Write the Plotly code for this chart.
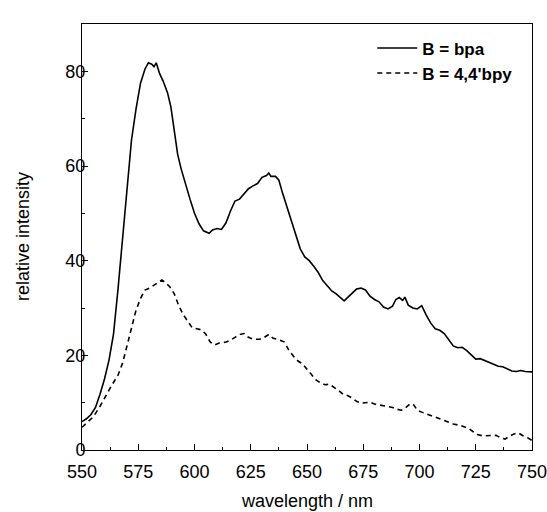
import plotly.graph_objects as go

# ---- data ----
wl_bpa = [550, 552, 554, 556, 558, 560, 562, 564, 566, 568, 570, 572, 574, 576, 578, 579.5, 581, 582, 583,
          584.5, 586, 588, 589.5, 591, 592.5, 594, 596, 598, 600, 602, 604, 606.5, 608, 610, 612, 614, 616,
          618, 620, 622, 624, 626, 628, 630, 632, 633, 634, 636, 637.5, 639, 641, 643, 645, 647, 649, 651,
          653, 655, 657, 659, 661, 663, 665, 666.5, 668, 670, 672, 674, 676, 678, 680, 682, 684, 686, 688,
          689.5, 691, 692.5, 693.5, 695, 697, 699, 701, 703, 705, 707, 709, 711, 713, 715, 717, 719, 721,
          723, 725, 727, 729, 731, 733, 735, 737, 739, 741, 743, 745, 747, 750]
int_bpa = [6.0, 6.6, 7.5, 9.0, 11.8, 15.0, 19.0, 24.5, 34.0, 45.0, 56.0, 65.5, 72.0, 77.5, 80.5, 81.8, 81.5,
           81.0, 81.8, 79.5, 78.0, 75.5, 72.5, 67.0, 62.5, 59.5, 56.0, 53.0, 50.0, 47.8, 46.3, 45.8, 46.5,
           46.8, 46.6, 48.0, 50.5, 52.6, 53.0, 54.0, 55.2, 55.8, 56.3, 57.6, 58.0, 58.5, 57.8, 57.8, 57.0,
           54.5, 51.5, 48.8, 45.5, 42.5, 40.8, 40.0, 38.8, 37.5, 35.8, 34.8, 33.6, 33.0, 32.2, 31.5, 32.2,
           33.2, 34.0, 34.2, 33.8, 32.5, 31.8, 31.3, 30.2, 29.8, 30.4, 31.8, 32.2, 31.6, 32.3, 30.6, 30.0,
           29.8, 30.5, 28.5, 26.8, 25.6, 25.3, 24.6, 23.2, 22.0, 21.6, 21.7, 21.0, 20.0, 19.2, 19.3, 18.9,
           18.4, 18.0, 17.7, 17.6, 17.2, 16.7, 16.6, 16.8, 16.6, 16.5]

wl_bpy = [550, 552.5, 555, 558, 561, 563, 566, 568, 570, 572, 574, 576, 578, 580, 582, 584, 585.5, 587, 589,
          591, 593, 595, 597, 599, 601, 603, 605, 607, 609, 611, 614, 616, 618, 620, 622, 624, 626, 629, 631,
          633, 635, 637, 640, 642, 644, 646, 648, 650, 652, 654, 656, 658, 660, 662, 664, 666, 668, 670, 672,
          674, 676, 678, 680, 683, 686, 688, 690, 692, 694, 696, 697.5, 699, 701, 703, 706, 709, 712, 715,
          718, 720, 722, 724, 726, 728, 731, 734, 736, 738, 740, 742, 744, 746, 748, 750]
int_bpy = [4.8, 5.8, 7.0, 9.2, 11.8, 13.5, 15.8, 18.3, 22.0, 26.0, 29.5, 32.0, 33.8, 34.2, 34.8, 35.5, 35.9,
           35.4, 34.5, 33.0, 30.5, 28.6, 27.2, 25.8, 25.6, 25.4, 24.5, 22.8, 22.2, 22.6, 22.8, 23.2, 23.8,
           24.4, 24.6, 23.8, 23.4, 23.4, 23.8, 24.4, 23.6, 23.4, 22.8, 21.0, 19.8, 18.8, 18.2, 17.0, 15.8,
           14.8, 14.2, 13.8, 13.9, 13.3, 12.6, 11.8, 11.5, 11.0, 10.3, 9.9, 10.0, 10.1, 9.7, 9.4, 9.1, 9.0,
           8.6, 8.4, 9.0, 9.8, 9.5, 8.4, 8.0, 7.6, 7.1, 6.6, 6.0, 5.5, 5.2, 4.9, 4.5, 3.8, 3.2, 3.0, 3.1,
           3.1, 2.6, 2.3, 2.9, 3.4, 3.6, 3.0, 2.6, 2.0]

x_ticks = [550, 575, 600, 625, 650, 675, 700, 725, 750]
y_ticks = [0, 20, 40, 60, 80]
x_title = "wavelength / nm"
y_title = "relative intensity"

FONT = "Arial, 'Liberation Sans', sans-serif"

fig = go.Figure()
fig.add_trace(go.Scatter(x=wl_bpa, y=int_bpa, mode="lines", name="<b>B = bpa</b>",
                         line=dict(color="black", width=1.6)))
fig.add_trace(go.Scatter(x=wl_bpy, y=int_bpy, mode="lines", name="<b>B = 4,4'bpy</b>",
                         line=dict(color="black", width=1.6, dash="5px,4px")))

axis_common = dict(showgrid=False, zeroline=False, showline=True, linecolor="black", linewidth=1,
                   mirror=True, ticks="inside", ticklen=6, tickwidth=1, tickcolor="black",
                   automargin=False, ticklabeloverflow="allow",
                   tickfont=dict(family=FONT, size=18, color="black"))

fig.update_xaxes(range=[550, 750], tickvals=x_ticks, ticktext=[str(t) for t in x_ticks],
                 minor=dict(dtick=12.5, ticks="inside", ticklen=3, tickcolor="black"),
                 ticklabelstandoff=5, **axis_common)
fig.update_yaxes(range=[0, 90], tickvals=y_ticks, ticktext=[str(t) for t in y_ticks],
                 minor=dict(dtick=10, ticks="inside", ticklen=3, tickcolor="black"),
                 ticklabelstandoff=-8, **axis_common)

fig.add_annotation(text=x_title, xref="paper", yref="paper", x=0.5, y=-0.12,
                   xanchor="center", yanchor="middle", showarrow=False,
                   font=dict(family=FONT, size=18, color="black"))
fig.add_annotation(text=y_title, xref="paper", yref="paper", x=-0.131, y=0.5,
                   xanchor="center", yanchor="middle", showarrow=False, textangle=-90,
                   font=dict(family=FONT, size=18, color="black"))

fig.update_layout(
    width=547, height=512,
    margin=dict(l=82, r=15, t=24, b=62),
    paper_bgcolor="white", plot_bgcolor="white",
    showlegend=True,
    legend=dict(x=0.645, y=0.985, xanchor="left", yanchor="top", bgcolor="rgba(0,0,0,0)",
                font=dict(family=FONT, size=17, color="black"), tracegroupgap=0, itemwidth=40),
)

fig.write_html("out.html")
